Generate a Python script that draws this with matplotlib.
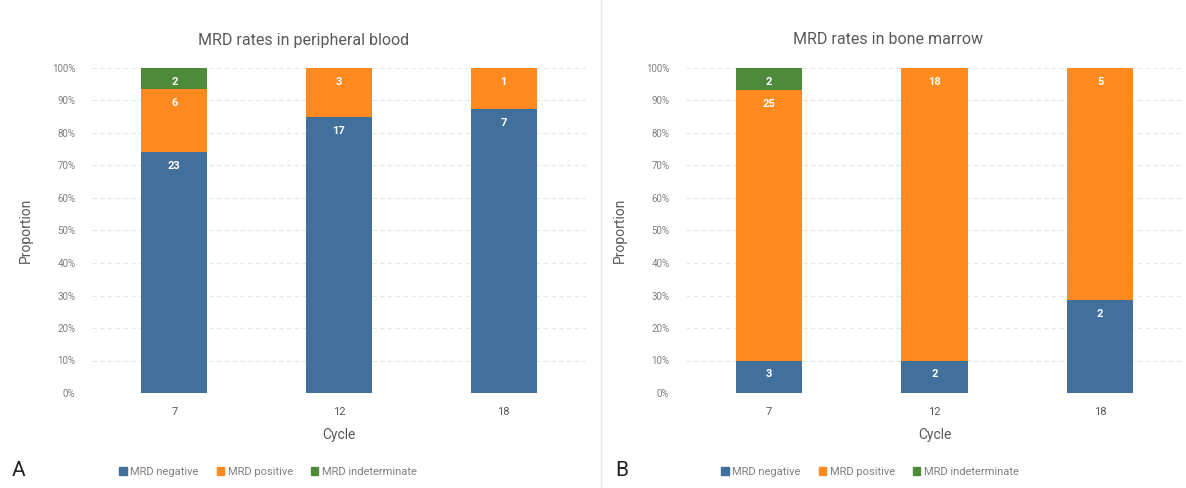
"""two-panel stacked bar chart of MRD status by cycle (peripheral blood vs bone marrow)"""
import matplotlib

matplotlib.use("Agg")
import matplotlib.pyplot as plt  # noqa: E402
import numpy as np  # noqa: E402
from matplotlib.patches import Patch  # noqa: E402

plt.rcParams["font.family"] = ["Roboto", "DejaVu Sans"]

CYCLES = ["7", "12", "18"]
SERIES = ["MRD negative", "MRD positive", "MRD indeterminate"]

# patient counts per cycle
PB_NEG = [23, 17, 7]
PB_POS = [6, 3, 1]
PB_IND = [2, 0, 0]

BM_NEG = [3, 2, 2]
BM_POS = [25, 18, 5]
BM_IND = [2, 0, 0]

COLORS = ["#41709C", "#FF8A1F", "#4D8A3A"]
TXT = "#595959"
W, H = 1186, 488


def panel(ax, title, title_x, leg_x, neg, pos, ind):
    counts = np.array([neg, pos, ind], dtype=float)
    props = counts / counts.sum(axis=0)
    x = np.arange(len(CYCLES))
    bottom = np.zeros(len(CYCLES))
    for k in range(3):
        ax.bar(x, props[k], 0.4, bottom=bottom, color=COLORS[k], zorder=3)
        for i in range(len(CYCLES)):
            if counts[k, i] > 0:
                ax.annotate(f"{int(counts[k, i])}", (x[i], bottom[i] + props[k, i]),
                            xytext=(0, -10), textcoords="offset points",
                            ha="center", va="center", color="white",
                            fontsize=8, fontweight="bold", zorder=4)
        bottom += props[k]
    ax.set_xlim(-0.5, 2.5)
    ax.set_ylim(0, 1)
    ax.set_yticks(np.linspace(0, 1, 11))
    ax.set_yticklabels([f"{v}%" for v in range(0, 101, 10)], fontsize=7, color="#7f7f7f")
    ax.set_xticks(x)
    ax.set_xticklabels(CYCLES, fontsize=8, color=TXT)
    ax.tick_params(length=0, pad=10)
    ax.tick_params(axis="y", pad=12)
    for s in ax.spines.values():
        s.set_visible(False)
    ax.grid(axis="y", ls=(0, (4, 3)), color="#e6e6e6", lw=0.8, zorder=0)
    fig.text(title_x / W, 1 - 40 / H, title, fontsize=11.5, color=TXT, ha="center", va="center")
    ax.set_xlabel("Cycle", fontsize=10, color=TXT, labelpad=8)
    ax.set_ylabel("Proportion", fontsize=10, color=TXT, labelpad=14)
    handles = [Patch(color=c, label=s) for c, s in zip(COLORS, SERIES)]
    fig.legend(handles=handles, loc="center", bbox_to_anchor=(leg_x / W, 1 - 472 / H), ncol=3,
               frameon=False, fontsize=8, labelcolor="#7f7f7f", handlelength=0.7,
               handleheight=0.7, handletextpad=0.3, columnspacing=1.6)


fig = plt.figure(figsize=(11.86, 4.88), dpi=100)
axA = fig.add_axes([92 / W, 95 / H, 494 / W, 325 / H])
axB = fig.add_axes([686 / W, 95 / H, 497 / W, 325 / H])
panel(axA, "MRD rates in peripheral blood", 304, 268, PB_NEG, PB_POS, PB_IND)
panel(axB, "MRD rates in bone marrow", 888, 870, BM_NEG, BM_POS, BM_IND)

fig.text(12 / W, 1 - 470 / H, "A", fontsize=15, va="center", ha="left", color="#222222")
fig.text(615 / W, 1 - 470 / H, "B", fontsize=15, va="center", ha="left", color="#222222")
fig.add_artist(plt.Line2D([601 / W, 601 / W], [0, 1], color="#e8e8e8", lw=1))

fig.savefig("out.png", dpi=100)
